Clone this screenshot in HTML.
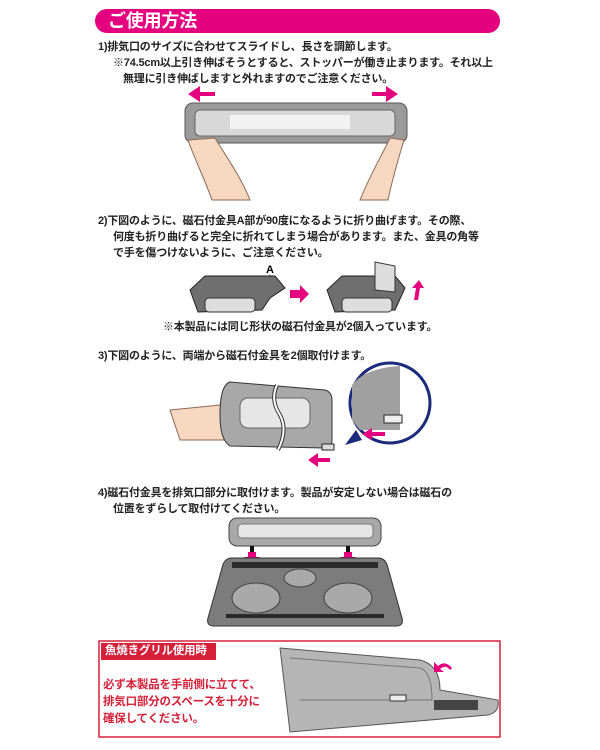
<!DOCTYPE html>
<html><head><meta charset="utf-8"><style>
body{margin:0;width:600px;height:750px;background:#fff;position:relative;overflow:hidden;font-family:"Liberation Sans","Noto Sans CJK JP",sans-serif;}
.t{position:absolute;font-size:11px;font-weight:bold;color:#222;white-space:nowrap;line-height:16px;letter-spacing:-0.2px}
.a{position:absolute}
</style></head><body>
<div class="a" style="left:95px;top:9px;width:405px;height:24px;background:#e4007f;border-radius:12px"></div>
<div class="t" style="left:108px;top:9px;font-size:18px;line-height:24px;color:#fff">ご使用方法</div>
<div class="t" style="left:98px;top:39px">1)排気口のサイズに合わせてスライドし、長さを調節します。</div>
<div class="t" style="left:113px;top:55px">※74.5cm以上引き伸ばそうとすると、ストッパーが働き止まります。それ以上</div>
<div class="t" style="left:123px;top:71px">無理に引き伸ばしますと外れますのでご注意ください。</div>

<svg class="a" style="left:0;top:0" width="600" height="750">
<!-- section 1 -->
<polygon points="215,92 200,92 200,86 188,94 200,102 200,96 215,96" fill="#e4007f"/>
<polygon points="372,92 386,92 386,86 398,94 386,102 386,96 372,96" fill="#e4007f"/>
<rect x="185" y="103" width="222" height="40" rx="8" fill="#9a9a9a" stroke="#555"/>
<rect x="195" y="110" width="200" height="26" rx="5" fill="#d8d8d8" stroke="#666"/>
<rect x="230" y="115" width="120" height="14" fill="#f2f2f2"/>
<path d="M188,140 C195,160 205,180 212,200 L250,200 C240,175 225,155 215,138 Z" fill="#f6d7c0" stroke="#8a6a55"/>
<path d="M404,140 C398,160 392,180 388,200 L360,200 C370,175 382,155 390,138 Z" fill="#f6d7c0" stroke="#8a6a55"/>
<!-- section 2 -->
<text x="266" y="273" font-size="11" font-weight="bold" font-family="Liberation Sans">A</text>
<line x1="270" y1="275" x2="270" y2="294" stroke="#222"/>
<polygon points="190,290 205,276 275,276 285,288 270,298 262,310 198,312" fill="#6f6f6f" stroke="#222"/>
<rect x="205" y="298" width="50" height="14" rx="4" fill="#ddd" stroke="#333"/>
<polygon points="290,290 300,290 300,285 309,294 300,303 300,298 290,298" fill="#e4007f"/>
<polygon points="327,290 342,276 395,276 405,288 395,310 335,312" fill="#6f6f6f" stroke="#222"/>
<polygon points="375,262 395,266 395,292 375,290" fill="#ddd" stroke="#333"/>
<rect x="342" y="298" width="50" height="14" rx="4" fill="#ddd" stroke="#333"/>
<path d="M414,300 L416,288 L412,288 L419,280 L424,288 L420,288 L418,300 Z" fill="#e4007f"/>
<!-- section 3 -->
<path d="M170,410 L220,405 L240,420 L232,440 L180,440 Z" fill="#f6d7c0" stroke="#8a6a55"/>
<path d="M230,382 L325,390 Q332,392 332,400 L332,440 Q332,448 325,448 L230,446 Q220,440 220,415 Q220,385 230,382 Z" fill="#a8a8a8" stroke="#333"/>
<rect x="240" y="398" width="70" height="30" rx="8" fill="#e6e6e6" stroke="#666"/>
<path d="M277,385 Q270,400 280,415 Q288,430 278,450" fill="none" stroke="#333" stroke-width="4"/>
<path d="M277,385 Q270,400 280,415 Q288,430 278,450" fill="none" stroke="#fff" stroke-width="2"/>
<rect x="322" y="444" width="12" height="6" fill="#ddd" stroke="#222"/>
<polygon points="330,458 318,458 318,453 308,460 318,467 318,462 330,462" fill="#e4007f"/>
<circle cx="390" cy="403" r="40" fill="#fff" stroke="#1b2a7a" stroke-width="3"/>
<path d="M352,420 L352,385 Q365,368 400,366 L400,430 L360,430 Z" fill="#a0a0a0"/>
<polygon points="345,445 356,430 362,440" fill="#1b2a7a"/>
<rect x="384" y="415" width="18" height="8" fill="#eee" stroke="#222"/>
<polygon points="385,432 372,432 372,428 362,434 372,440 372,436 385,436" fill="#e4007f"/>
<!-- section 4 -->
<rect x="229" y="518" width="152" height="28" rx="8" fill="#a8a8a8" stroke="#444"/>
<rect x="238" y="524" width="135" height="14" rx="4" fill="#e6e6e6" stroke="#777"/>
<rect x="250" y="546" width="4" height="6" fill="#111"/><rect x="346" y="546" width="4" height="6" fill="#111"/>
<polygon points="248,552 256,552 256,557 260,557 252,564 244,557 248,557" fill="#e4007f"/>
<polygon points="344,552 352,552 352,557 356,557 348,564 340,557 344,557" fill="#e4007f"/>
<path d="M232,558 L378,558 Q386,558 388,568 L402,618 Q404,626 396,626 L214,626 Q206,626 208,618 L222,568 Q224,558 232,558 Z" fill="#7c7c7c" stroke="#333"/>
<rect x="232" y="562" width="146" height="6" fill="#2a2a2a"/>
<ellipse cx="256" cy="598" rx="24" ry="15" fill="#a9a9a9" stroke="#444"/>
<ellipse cx="348" cy="598" rx="24" ry="15" fill="#a9a9a9" stroke="#444"/>
<ellipse cx="300" cy="578" rx="16" ry="9" fill="#a9a9a9" stroke="#444"/>
<rect x="226" y="614" width="158" height="4" fill="#2a2a2a"/>
<!-- bottom box -->
<rect x="99" y="641" width="401" height="96" fill="#fff" stroke="#d5203a" stroke-width="1.5"/>
<rect x="101" y="643" width="115" height="17" fill="#d5203a"/>
<path d="M280,648 L420,660 Q440,665 440,690 L498,700 Q500,712 488,715 L290,732 Z" fill="#b5b5b5" stroke="#555"/>
<path d="M290,658 L420,668 Q432,672 432,700 L300,700" fill="none" stroke="#777"/>
<rect x="390" y="695" width="16" height="6" fill="#eee" stroke="#333"/>
<rect x="434" y="700" width="44" height="10" fill="#444"/>
<path d="M452,668 Q445,660 438,666 L434,662 L434,672 L444,672 L440,669 Q446,664 450,670 Z" fill="#e4007f"/>
</svg>

<div class="t" style="left:98px;top:213px">2)下図のように、磁石付金具A部が90度になるように折り曲げます。その際、</div>
<div class="t" style="left:113px;top:229px">何度も折り曲げると完全に折れてしまう場合があります。また、金具の角等</div>
<div class="t" style="left:113px;top:245px">で手を傷つけないように、ご注意ください。</div>
<div class="t" style="left:163px;top:319px">※本製品には同じ形状の磁石付金具が2個入っています。</div>
<div class="t" style="left:98px;top:348px">3)下図のように、両端から磁石付金具を2個取付けます。</div>
<div class="t" style="left:98px;top:485px">4)磁石付金具を排気口部分に取付けます。製品が安定しない場合は磁石の</div>
<div class="t" style="left:113px;top:501px">位置をずらして取付けてください。</div>
<div class="t" style="left:105px;top:643px;color:#fff;font-size:11.5px;line-height:17px">魚焼きグリル使用時</div>
<div class="t" style="left:103px;top:677px;color:#d5203a;font-size:11.5px">必ず本製品を手前側に立てて、</div>
<div class="t" style="left:103px;top:694px;color:#d5203a;font-size:11.5px">排気口部分のスペースを十分に</div>
<div class="t" style="left:103px;top:711px;color:#d5203a;font-size:11.5px">確保してください。</div>
</body></html>
